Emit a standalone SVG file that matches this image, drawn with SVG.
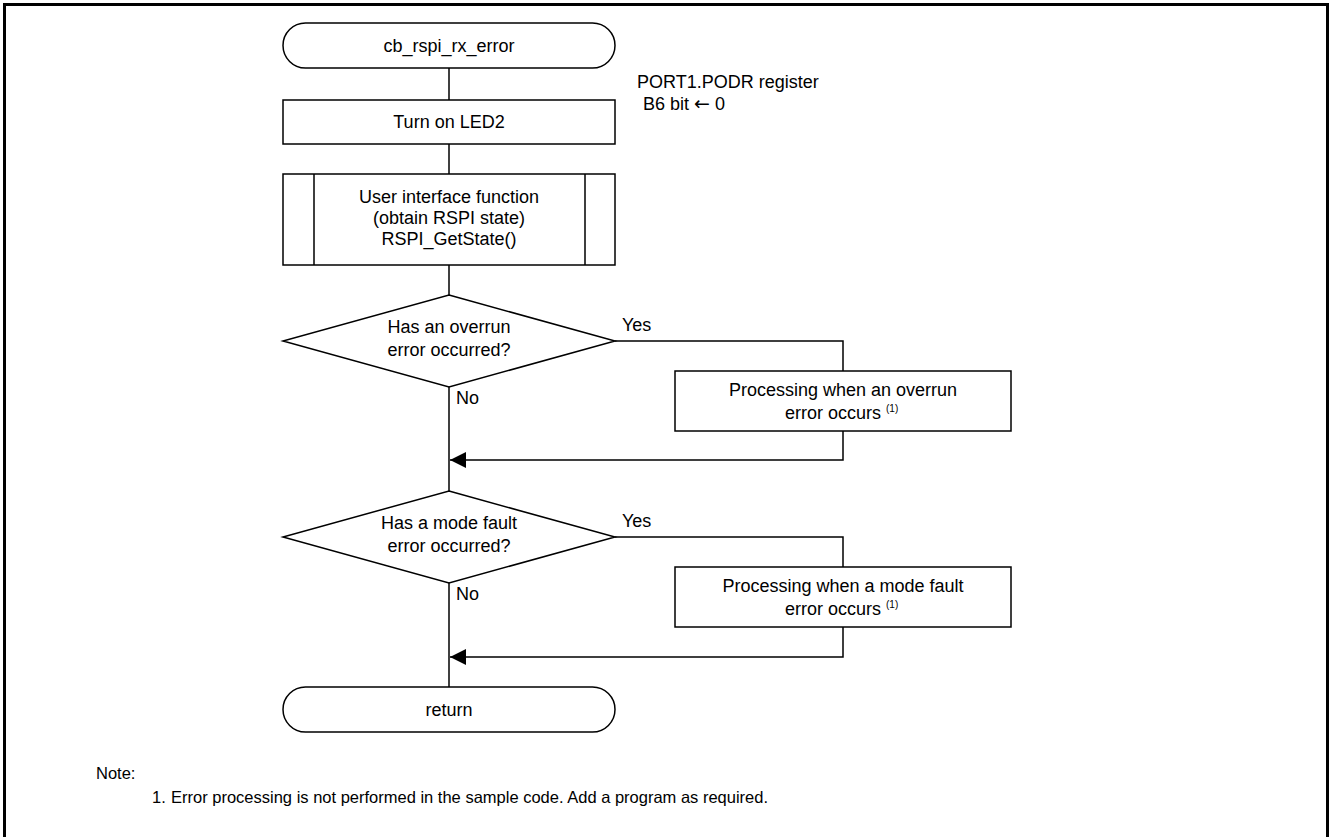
<svg xmlns="http://www.w3.org/2000/svg" width="1330" height="837" viewBox="0 0 1330 837">
<style>
.s{fill:#fff;stroke:#000;stroke-width:1.5}
.l{fill:none;stroke:#000;stroke-width:1.5}
text{font-family:"Liberation Sans",Arial,sans-serif;font-size:18px;fill:#000}
.c{text-anchor:middle}
.sup{font-size:10px}
.n{font-size:16.5px}
.arr{font-family:"DejaVu Sans",sans-serif;font-size:19px}
</style>
<defs>
<marker id="ah" markerWidth="16" markerHeight="16" refX="16" refY="8" orient="auto" markerUnits="userSpaceOnUse">
<path d="M0,0 L16,8 L0,16 Z" fill="#000"/>
</marker>
</defs>
<rect x="0" y="0" width="1330" height="837" fill="#fff"/>
<path d="M4.5,840 V4.5 H1327.5 V840" fill="none" stroke="#000" stroke-width="3"/>
<g id="connectors">
<path class="l" d="M449,68 V100"/>
<path class="l" d="M449,144 V174"/>
<path class="l" d="M449,265 V295"/>
<path class="l" d="M615,341 H843 V371"/>
<path class="l" d="M843,431 V460 H450" marker-end="url(#ah)"/>
<path class="l" d="M449,387 V491"/>
<path class="l" d="M615,537 H843 V567"/>
<path class="l" d="M843,627 V657 H450" marker-end="url(#ah)"/>
<path class="l" d="M449,583 V687"/>
</g>
<g id="start">
<rect class="s" x="283" y="23" width="332" height="45" rx="22.5"/>
<text class="c" x="449" y="52">cb_rspi_rx_error</text>
</g>
<g id="led2">
<rect class="s" x="283" y="100" width="332" height="44"/>
<text class="c" x="449" y="128">Turn on LED2</text>
<text x="637" y="88">PORT1.PODR register</text>
<text x="643" y="110">B6 bit <tspan class="arr">←</tspan> 0</text>
</g>
<g id="getstate">
<rect class="s" x="283" y="174" width="332" height="91"/>
<path class="l" d="M314,174 V265 M585,174 V265"/>
<text class="c" x="449" y="203">User interface function</text>
<text class="c" x="449" y="224">(obtain RSPI state)</text>
<text class="c" x="449" y="245">RSPI_GetState()</text>
</g>
<g id="dec1">
<polygon class="s" points="449,295 615,341 449,387 283,341"/>
<text class="c" x="449" y="333">Has an overrun</text>
<text class="c" x="449" y="356">error occurred?</text>
<text x="622" y="331">Yes</text>
<text x="456" y="404">No</text>
</g>
<g id="proc1">
<rect class="s" x="675" y="371" width="336" height="60"/>
<text class="c" x="843" y="396">Processing when an overrun</text>
<text x="785" y="419">error occurs <tspan class="sup" dy="-7">(1)</tspan></text>
</g>
<g id="dec2">
<polygon class="s" points="449,491 615,537 449,583 283,537"/>
<text class="c" x="449" y="529">Has a mode fault</text>
<text class="c" x="449" y="552">error occurred?</text>
<text x="622" y="527">Yes</text>
<text x="456" y="600">No</text>
</g>
<g id="proc2">
<rect class="s" x="675" y="567" width="336" height="60"/>
<text class="c" x="843" y="592">Processing when a mode fault</text>
<text x="785" y="615">error occurs <tspan class="sup" dy="-7">(1)</tspan></text>
</g>
<g id="end">
<rect class="s" x="283" y="687" width="332" height="45" rx="22.5"/>
<text class="c" x="449" y="716">return</text>
</g>
<g id="note">
<text class="n" x="96" y="779">Note:</text>
<text class="n" x="152" y="803">1.</text>
<text class="n" x="171" y="803">Error processing is not performed in the sample code. Add a program as required.</text>
</g>
</svg>
